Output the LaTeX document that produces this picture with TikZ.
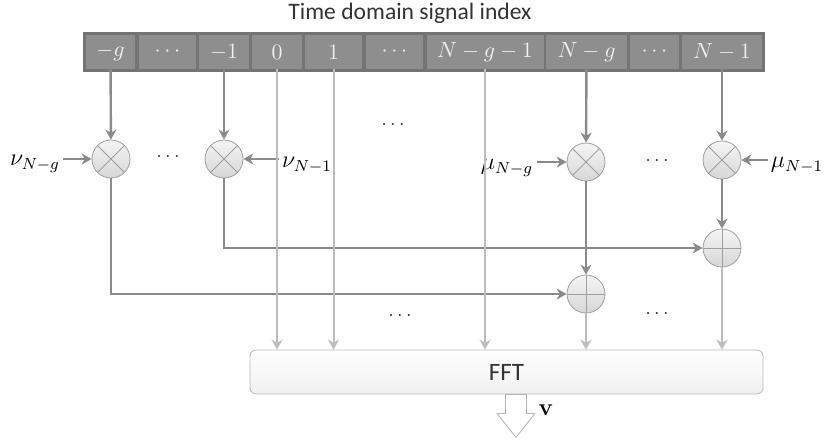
\documentclass[tikz,border=0pt]{standalone}
\usepackage[no-math]{fontspec}
\setmainfont{Carlito}
\usetikzlibrary{arrows.meta}
\definecolor{wirecol}{HTML}{8A8A8A}
\definecolor{thrucol}{HTML}{BDBDBD}
\definecolor{cellbg}{HTML}{8E8E8E}
\definecolor{cellframe}{HTML}{747474}

\begin{document}
\begin{tikzpicture}[x=0.5pt,y=-0.5pt,
  cell/.style={fill=cellbg, text=white!88!gray, minimum height=17pt, inner sep=0pt,
    font=\fontsize{11}{13}\selectfont},
  wire/.style={draw=wirecol, line width=1.2pt, -{Stealth[length=5pt,width=5.5pt]}},
  thru/.style={draw=thrucol, line width=1pt, -{Stealth[length=5pt,width=5.5pt]}},
  op/.style={circle, draw=gray!75, top color=gray!8, bottom color=gray!32,
    minimum size=19pt, inner sep=0pt},
  mult/.style={op, path picture={\draw[gray!75]
    (path picture bounding box.north west) -- (path picture bounding box.south east)
    (path picture bounding box.north east) -- (path picture bounding box.south west);}},
  adder/.style={op, path picture={\draw[gray!75]
    (path picture bounding box.north) -- (path picture bounding box.south)
    (path picture bounding box.west) -- (path picture bounding box.east);}},
  coef/.style={font=\fontsize{12}{14}\selectfont, inner sep=1.5pt},
  skip/.style={font=\fontsize{10}{12}\selectfont, text=black!80}]

  \useasboundingbox (0,0) rectangle (824,440);

  \node[font=\fontsize{11.8}{14}\selectfont, text=black!80] (title) at (410,13) {Time domain signal index};

  \fill[cellframe] (83,32) rectangle (765,72);
  \node[cell, minimum width=24.5pt] (c1) at (110.5,52) {$-g$};
  \node[cell, minimum width=28.5pt] (c2) at (167.5,52) {$\cdots$};
  \node[cell, minimum width=25pt] (c3) at (224,52) {$-1$};
  \node[cell, minimum width=25pt] (c4) at (277,52) {$0$};
  \node[cell, minimum width=28.5pt] (c5) at (333.5,52) {$1$};
  \node[cell, minimum width=28.5pt] (c6) at (394.5,52) {$\cdots$};
  \node[cell, minimum width=58.5pt] (c7) at (485,52) {$N-g-1$};
  \node[cell, minimum width=40.5pt] (c8) at (586.5,52) {$N-g$};
  \node[cell, minimum width=24.5pt] (c9) at (654.5,52) {$\cdots$};
  \node[cell, minimum width=40pt] (c10) at (722,52) {$N-1$};

  \node[mult] (mA) at (111,159) {};
  \node[mult] (mB) at (224,159) {};
  \node[mult] (mC) at (586,162) {};
  \node[mult] (mD) at (722,160) {};
  \node[adder] (aD) at (722,248) {};
  \node[adder] (aC) at (586,294) {};

  \node[coef] (nuA) at (35,164) {$\nu_{N-g}$};
  \node[coef] (nuB) at (307,165) {$\nu_{N-1}$};
  \node[coef] (muC) at (507,168) {$\mu_{N-g}$};
  \node[coef] (muD) at (797,165) {$\mu_{N-1}$};

  \node[skip] (dA) at (168,157) {$\cdots$};
  \node[skip] (dB) at (393,125) {$\cdots$};
  \node[skip] (dC) at (657,161) {$\cdots$};
  \node[skip] (dD) at (400,316) {$\cdots$};
  \node[skip] (dE) at (657,314) {$\cdots$};

  \node[draw=gray!55, rounded corners=3pt, top color=white, bottom color=gray!12,
    minimum width=256.5pt, minimum height=22pt, font=\fontsize{12.5}{14}\selectfont,
    text=black!80] (fft) at (506.5,372) {FFT};

  \draw[wire] (c1) -- (mA);
  \draw[wire] (c3) -- (mB);
  \draw[wire] (c8) -- (mC);
  \draw[wire] (c10) -- (mD);
  \draw[wire] (nuA.east |- mA) -- (mA);
  \draw[wire] (nuB.west |- mB) -- (mB);
  \draw[wire] (muC.east |- mC) -- (mC);
  \draw[wire] (muD.west |- mD) -- (mD);

  \draw[wire] (mA) |- (aC);
  \draw[wire] (mB) |- (aD);
  \draw[wire] (mC) -- (aC);
  \draw[wire] (mD) -- (aD);

  \draw[thru] (c4) -- (c4 |- fft.north);
  \draw[thru] (c5) -- (c5 |- fft.north);
  \draw[thru] (c7) -- (c7 |- fft.north);
  \draw[thru] (aC) -- (aC |- fft.north);
  \draw[thru] (aD) -- (aD |- fft.north);

  \path (fft.south) ++(9.5,43) coordinate (vtip);
  \draw[draw=gray!60, fill=white, line join=round] (vtip) -- ++(-19,-24) -- ++(8.5,0)
    -- ++(0,-19) -- ++(21,0) -- ++(0,19) -- ++(8.5,0) -- cycle;
  \node[coef] (vlab) at (546,410) {$\mathbf{v}$};
\end{tikzpicture}
\end{document}
